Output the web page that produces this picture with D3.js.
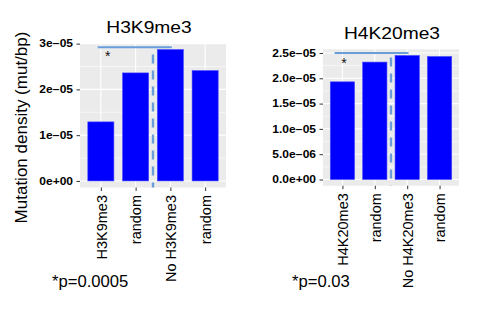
<!DOCTYPE html>
<html>
<head>
<meta charset="utf-8">
<script src="https://d3js.org/d3.v7.min.js"></script>
<style>
  body { margin: 0; background: #fff; }
  text { font-family: "Liberation Sans", Arial, sans-serif; }
</style>
</head>
<body>
<script>
// ---- data ----
var categories1 = ["H3K9me3", "random", "No H3K9me3", "random"];
var values1 = [1.29e-5, 2.36e-5, 2.87e-5, 2.41e-5];
var yTicks1 = [0, 1e-5, 2e-5, 3e-5];
var yTickLabels1 = ["0e+00", "1e\u221205", "2e\u221205", "3e\u221205"];
var sigLineX1 = [0.91, 3.04];
var sigLineY1 = 2.92e-5;
var dashTop1 = 2.76e-5;
var star1 = [1.2, 2.80e-5];

var categories2 = ["H4K20me3", "random", "No H4K20me3", "random"];
var values2 = [1.93e-5, 2.32e-5, 2.45e-5, 2.43e-5];
var yTicks2 = [0, 5e-6, 1e-5, 1.5e-5, 2e-5, 2.5e-5];
var yTickLabels2 = ["0.0e+00", "5.0e\u221206", "1.0e\u221205", "1.5e\u221205", "2.0e\u221205", "2.5e\u221205"];
var sigLineX2 = [0.76, 3.04];
var sigLineY2 = 2.5e-5;
var dashTop2 = 2.41e-5;
var star2 = [1.05, 2.36e-5];

var w = 500, h = 325;

var svg = d3.select("body").append("svg")
  .attr("width", w)
  .attr("height", h);

svg.append("rect").attr("width", w).attr("height", h).attr("fill", "#fff");

// the reference text is drawn a little wider than the font would be
function widen(sel, k) {
  sel.each(function() {
    var len = this.getComputedTextLength();
    d3.select(this).attr("textLength", len * k).attr("lengthAdjust", "spacingAndGlyphs");
  });
}

function drawPanel(p) {
  var g = svg.append("g");
  var maxV = d3.max(p.values);
  var x = d3.scaleLinear().domain([0.4, p.values.length + 0.6]).range([p.left, p.right]);
  var y = d3.scaleLinear().domain([-0.05 * maxV, 1.05 * maxV]).range([p.bottom, p.top]);

  // panel background
  g.append("rect")
    .attr("x", p.left).attr("y", p.top)
    .attr("width", p.right - p.left).attr("height", p.bottom - p.top)
    .attr("fill", "#ebebeb");

  // minor grid
  var minor = [];
  for (var i = 0; i < p.ticks.length - 1; i++) minor.push((p.ticks[i] + p.ticks[i + 1]) / 2);
  g.selectAll(".minor").data(minor).enter().append("line")
    .attr("x1", p.left).attr("x2", p.right)
    .attr("y1", function(d) { return y(d); }).attr("y2", function(d) { return y(d); })
    .attr("stroke", "#fff").attr("stroke-width", 0.55);
  // major grid
  g.selectAll(".major").data(p.ticks).enter().append("line")
    .attr("x1", p.left).attr("x2", p.right)
    .attr("y1", function(d) { return y(d); }).attr("y2", function(d) { return y(d); })
    .attr("stroke", "#fff").attr("stroke-width", 1.1);
  g.selectAll(".vgrid").data(p.categories).enter().append("line")
    .attr("x1", function(d, i) { return x(i + 1); }).attr("x2", function(d, i) { return x(i + 1); })
    .attr("y1", p.top).attr("y2", p.bottom)
    .attr("stroke", "#fff").attr("stroke-width", 1.1);

  // bars
  var bw = x(1.75) - x(1);
  g.selectAll(".bar").data(p.values).enter().append("rect")
    .attr("x", function(d, i) { return x(i + 1) - bw / 2; })
    .attr("y", function(d) { return y(d); })
    .attr("width", bw)
    .attr("height", function(d) { return y(0) - y(d); })
    .attr("fill", "#0000ff")
    .attr("stroke", "#4646ff").attr("stroke-width", 0.6);

  // significance bracket
  g.append("line")
    .attr("x1", x(p.sigX[0])).attr("x2", x(p.sigX[1]))
    .attr("y1", y(p.sigY)).attr("y2", y(p.sigY))
    .attr("stroke", "#6a9ed8").attr("stroke-width", 2);
  g.append("line")
    .attr("x1", x(2.5)).attr("x2", x(2.5))
    .attr("y1", y(p.dashTop)).attr("y2", p.bottom)
    .attr("stroke", "#6a9ed8").attr("stroke-width", 2.4)
    .attr("stroke-dasharray", "9,7");
  g.append("text")
    .attr("x", x(p.star[0])).attr("y", y(p.star[1]))
    .attr("dy", "0.6em")
    .attr("text-anchor", "middle")
    .attr("font-size", "14px")
    .attr("fill", "#111")
    .text("*");

  // y axis
  var yAxis = d3.axisLeft(y)
    .tickValues(p.ticks)
    .tickFormat(function(d, i) { return p.tickLabels[i]; })
    .tickSize(3.5).tickPadding(3.5);
  var ya = g.append("g").attr("transform", "translate(" + p.left + ",0)").call(yAxis);
  ya.select(".domain").remove();
  ya.selectAll(".tick line").attr("stroke", "#333");
  ya.selectAll(".tick text")
    .attr("font-family", "Liberation Sans, Arial, sans-serif")
    .attr("font-size", "10px").attr("font-weight", "bold").attr("fill", "#000")
    .call(widen, 1.2);

  // x axis
  var xAxis = d3.axisBottom(x)
    .tickValues(d3.range(1, p.categories.length + 1))
    .tickFormat(function(d) { return p.categories[d - 1]; })
    .tickSize(3.5);
  var xa = g.append("g").attr("transform", "translate(0," + p.bottom + ")").call(xAxis);
  xa.select(".domain").remove();
  xa.selectAll(".tick line").attr("stroke", "#333");
  xa.selectAll(".tick text")
    .attr("font-family", "Liberation Sans, Arial, sans-serif")
    .attr("font-size", "14.5px").attr("fill", "#000")
    .attr("transform", "rotate(-90)")
    .attr("text-anchor", "end")
    .attr("x", -7.5).attr("y", 0).attr("dy", "0.36em");

  // title
  svg.append("text")
    .attr("x", p.titleX).attr("y", p.titleY)
    .attr("text-anchor", "middle")
    .attr("font-size", "17px").attr("fill", "#000")
    .text(p.title)
    .call(widen, 1.13);

  // p-value note
  svg.append("text")
    .attr("x", p.noteX).attr("y", 287)
    .attr("font-size", "16px").attr("fill", "#000")
    .text(p.note)
    .call(widen, 1.04);
}

drawPanel({
  categories: categories1, values: values1, ticks: yTicks1, tickLabels: yTickLabels1,
  sigX: sigLineX1, sigY: sigLineY1, dashTop: dashTop1, star: star1,
  left: 80, right: 226, top: 43, bottom: 187.5,
  title: "H3K9me3", titleX: 149, titleY: 33,
  note: "*p=0.0005", noteX: 52
});

drawPanel({
  categories: categories2, values: values2, ticks: yTicks2, tickLabels: yTickLabels2,
  sigX: sigLineX2, sigY: sigLineY2, dashTop: dashTop2, star: star2,
  left: 323, right: 459, top: 49.3, bottom: 185.7,
  title: "H4K20me3", titleX: 392, titleY: 39,
  note: "*p=0.03", noteX: 292
});

// shared y axis title
svg.append("text")
  .attr("transform", "translate(27,127.5) rotate(-90)")
  .attr("text-anchor", "middle")
  .attr("font-size", "17px").attr("fill", "#000")
  .text("Mutation density (mut/bp)");
</script>
</body>
</html>
